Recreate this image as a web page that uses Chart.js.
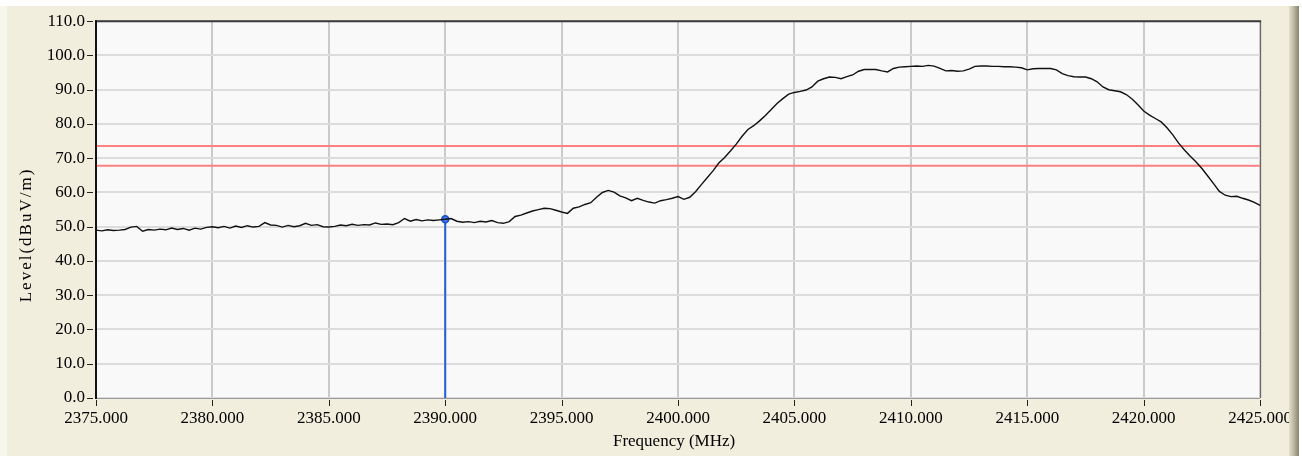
<!DOCTYPE html>
<html>
<head>
<meta charset="utf-8">
<script src="https://cdn.jsdelivr.net/npm/chart.js@4.4.1/dist/chart.umd.min.js"></script>
<style>
  html, body { margin: 0; padding: 0; background: #ffffff; width: 1302px; height: 457px; overflow: hidden; }
  #leftStrip { position: absolute; left: 0; top: 6px; width: 7px; height: 450px; background: #F8F7EC; }
  #panel { position: absolute; left: 7px; top: 6px; width: 1283px; height: 450px; background: #F1EEDE; }
  #rightBar { position: absolute; left: 1289px; top: 6px; width: 10px; height: 450px;
              background: linear-gradient(to right, #E2DECA, #C2BEA9 40%, #9A9682 80%, #8A8672); z-index: 5; }
  #c { position: absolute; left: 0; top: 0; z-index: 2; }
</style>
</head>
<body>
<div id="leftStrip"></div>
<div id="panel"></div>
<canvas id="c" width="1302" height="457"></canvas>
<div id="rightBar"></div>
<script>
// ---- Data ----
const freqStart = 2375.0;   // MHz, sweep start
const freqStop  = 2425.0;   // MHz, sweep stop
// Measured level (dBuV/m), one reading every 0.25 MHz from 2375 to 2425
const levels = [
  // 2375.00 - 2379.75
  49.0,48.8,49.1,48.9,49.0,49.2,49.9,50.1,48.7,49.2,49.0,49.3,49.1,49.6,49.2,49.5,49.0,49.6,49.3,49.8,
  // 2380.00 - 2384.75
  50.0,49.7,50.1,49.6,50.2,49.8,50.3,49.9,50.1,51.2,50.5,50.4,49.9,50.4,50.0,50.3,51.0,50.4,50.6,50.0,
  // 2385.00 - 2389.75
  49.9,50.1,50.5,50.3,50.7,50.4,50.6,50.5,51.1,50.7,50.8,50.6,51.2,52.4,51.6,52.1,51.7,52.0,51.8,52.0,
  // 2390.00 - 2394.75
  52.2,52.4,51.6,51.3,51.5,51.2,51.6,51.4,51.8,51.2,51.0,51.5,53.0,53.4,54.0,54.6,55.0,55.4,55.3,54.8,
  // 2395.00 - 2399.75
  54.3,53.9,55.4,55.8,56.5,57.0,58.6,60.0,60.6,60.1,59.0,58.4,57.6,58.3,57.7,57.2,56.9,57.6,57.9,58.3,
  // 2400.00 - 2404.75
  58.8,58.0,58.6,60.2,62.3,64.3,66.3,68.6,70.2,72.1,74.1,76.4,78.4,79.5,80.9,82.5,84.2,86.0,87.4,88.7,
  // 2405.00 - 2409.75
  89.2,89.5,89.9,90.8,92.5,93.2,93.7,93.6,93.2,93.8,94.3,95.4,95.9,95.9,95.9,95.5,95.2,96.2,96.6,96.7,
  // 2410.00 - 2414.75
  96.8,96.9,96.8,97.1,96.9,96.2,95.5,95.6,95.4,95.5,96.0,96.8,96.9,96.9,96.8,96.8,96.7,96.7,96.6,96.4,
  // 2415.00 - 2419.75
  95.8,96.1,96.2,96.2,96.2,95.8,94.7,94.1,93.8,93.7,93.7,93.2,92.3,90.8,90.0,89.7,89.4,88.6,87.3,85.6,
  // 2420.00 - 2424.75
  83.8,82.6,81.6,80.6,78.9,76.8,74.4,72.4,70.6,68.9,67.0,64.8,62.6,60.3,59.2,58.8,58.9,58.3,57.8,57.1,
  // 2425.00
  56.2
];
const limitLines = [73.6, 67.8];       // dBuV/m
const markerFreq = 2390.0;             // MHz
const markerLevel = 52.2;              // dBuV/m
const xTickStep = 5;                   // MHz
const yMin = 0, yMax = 110, yTickStep = 10;
const xTitle = 'Frequency (MHz)';
const yTitle = 'Level(dBuV/m)';

// ---- Build Chart.js data ----
const nPts = levels.length;
const trace = levels.map((v, i) => ({ x: freqStart + i * (freqStop - freqStart) / (nPts - 1), y: v }));

const FONT = "'Liberation Serif', 'Times New Roman', serif";
Chart.defaults.font.family = FONT;
Chart.defaults.font.size = 17;
Chart.defaults.color = '#000000';

const framePlugin = {
  id: 'frame',
  beforeDraw(chart) {
    const { ctx, chartArea: a } = chart;
    ctx.save();
    ctx.fillStyle = '#F9F9F9';
    ctx.fillRect(a.left, a.top, a.right - a.left, a.bottom - a.top);
    ctx.restore();
  },
  afterDraw(chart) {
    const { ctx, chartArea: a, scales } = chart;
    ctx.save();
    // frame
    ctx.lineWidth = 1;
    ctx.strokeStyle = '#9A9A9A';
    ctx.beginPath(); ctx.moveTo(a.left, a.bottom + 0.5); ctx.lineTo(a.right, a.bottom + 0.5); ctx.stroke();
    ctx.strokeStyle = '#5A5A5A';
    ctx.beginPath(); ctx.moveTo(a.right + 0.5, a.top); ctx.lineTo(a.right + 0.5, a.bottom); ctx.stroke();
    ctx.lineWidth = 2;
    ctx.strokeStyle = '#3A3A3A';
    ctx.beginPath(); ctx.moveTo(a.left - 1, a.top); ctx.lineTo(a.right + 1, a.top); ctx.stroke();
    ctx.strokeStyle = '#111111';
    ctx.beginPath(); ctx.moveTo(a.left, a.top - 1); ctx.lineTo(a.left, a.bottom + 1); ctx.stroke();
    // tick marks
    ctx.lineWidth = 1;
    ctx.strokeStyle = '#222222';
    scales.x.ticks.forEach(t => {
      const px = Math.round(scales.x.getPixelForValue(t.value)) + 0.5;
      ctx.beginPath(); ctx.moveTo(px, a.bottom + 2); ctx.lineTo(px, a.bottom + 8); ctx.stroke();
    });
    scales.y.ticks.forEach(t => {
      const py = Math.round(scales.y.getPixelForValue(t.value)) + 0.5;
      ctx.beginPath(); ctx.moveTo(a.left - 9, py); ctx.lineTo(a.left - 3, py); ctx.stroke();
    });
    // axis titles
    ctx.fillStyle = '#000000';
    ctx.font = '17px ' + FONT;
    ctx.textAlign = 'center';
    ctx.textBaseline = 'alphabetic';
    ctx.fillText(xTitle, (a.left + a.right) / 2 - 4, 446);
    ctx.translate(31, 235);
    ctx.rotate(-Math.PI / 2);
    try { ctx.letterSpacing = '2px'; } catch (e) {}
    ctx.fillText(yTitle, 0, 0);
    ctx.restore();
  }
};

new Chart(document.getElementById('c'), {
  type: 'line',
  data: {
    datasets: [
      {
        label: 'Level',
        data: trace,
        borderColor: '#111111',
        borderWidth: 1.4,
        pointRadius: 0,
        tension: 0
      },
      {
        label: 'Marker',
        data: [{ x: markerFreq, y: yMin }, { x: markerFreq, y: markerLevel }],
        borderColor: '#1F5FE0',
        borderWidth: 2,
        pointRadius: [0, 3.5],
        pointBackgroundColor: '#3C78F0',
        pointBorderColor: '#1A4FC8',
        pointBorderWidth: 1.5
      },
      {
        label: 'Limit 1',
        data: [{ x: freqStart, y: limitLines[0] }, { x: freqStop, y: limitLines[0] }],
        borderColor: '#FF8080',
        borderWidth: 2,
        pointRadius: 0
      },
      {
        label: 'Limit 2',
        data: [{ x: freqStart, y: limitLines[1] }, { x: freqStop, y: limitLines[1] }],
        borderColor: '#FF8080',
        borderWidth: 2,
        pointRadius: 0
      }
    ]
  },
  options: {
    responsive: false,
    animation: false,
    events: [],
    layout: { padding: { left: 0, top: 20, right: 41, bottom: 0 } },
    plugins: { legend: { display: false }, tooltip: { enabled: false }, title: { display: false } },
    scales: {
      x: {
        type: 'linear',
        min: freqStart,
        max: freqStop,
        border: { display: false },
        grid: { color: '#CACACA', lineWidth: 2, drawTicks: false },
        ticks: {
          stepSize: xTickStep,
          padding: 10,
          maxRotation: 0,
          autoSkip: false,
          callback: v => v.toFixed(3)
        },
        afterFit: s => { s.height = 59; }
      },
      y: {
        min: yMin,
        max: yMax,
        border: { display: false },
        grid: { color: '#DCDCDC', lineWidth: 2, drawTicks: false },
        ticks: {
          stepSize: yTickStep,
          padding: 11,
          callback: v => v.toFixed(1)
        },
        afterFit: s => { s.width = 96; }
      }
    }
  },
  plugins: [framePlugin]
});
</script>
</body>
</html>
